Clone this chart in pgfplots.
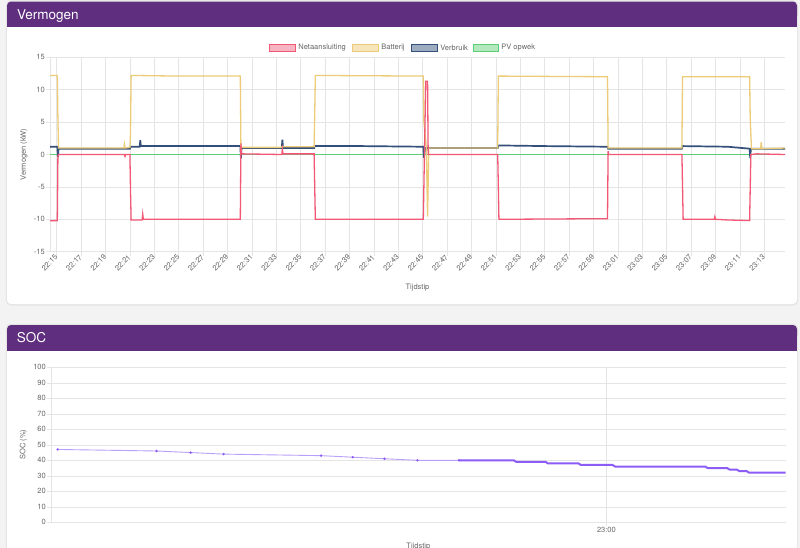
\documentclass[border=0pt]{standalone}
\usepackage{fontspec}
\setmainfont{TeX Gyre Heros}
\usepackage{pgfplots}
\pgfplotsset{compat=1.18}
\definecolor{pagebg}{RGB}{243,243,243}
\definecolor{shadowc}{RGB}{228,228,228}
\definecolor{purp}{RGB}{95,46,126}
\definecolor{gridc}{RGB}{229,229,229}
\definecolor{labc}{RGB}{102,102,102}
\definecolor{netc}{RGB}{242,88,118}
\definecolor{netf}{RGB}{247,180,194}
\definecolor{batc}{RGB}{236,204,120}
\definecolor{batf}{RGB}{246,228,186}
\definecolor{verc}{RGB}{52,80,122}
\definecolor{verf}{RGB}{158,172,194}
\definecolor{pvc}{RGB}{95,205,120}
\definecolor{pvf}{RGB}{178,232,188}
\definecolor{socthin}{RGB}{185,160,250}
\definecolor{socthick}{RGB}{140,92,245}
\newcommand{\tickfont}{\fontsize{7.5bp}{9bp}\selectfont}
\begin{document}
\begin{tikzpicture}
% page
\fill[pagebg] (0,0) rectangle (800bp,-548bp);
% card 1
\fill[shadowc, rounded corners=5bp] (5.8bp,-0.5bp) rectangle (798.2bp,-305.5bp);
\fill[white, rounded corners=4bp] (7bp,-1.5bp) rectangle (797bp,-304bp);
\fill[purp, rounded corners=4bp] (7bp,-1.5bp) rectangle (797bp,-20bp);
\fill[purp] (7bp,-12bp) rectangle (797bp,-27.3bp);
\node[anchor=base west, text=white, inner sep=0pt, font=\fontsize{13.5bp}{16bp}\selectfont] at (17bp,-19.2bp) {Vermogen};
% card 2
\fill[shadowc, rounded corners=5bp] (5.8bp,-323.8bp) rectangle (798.2bp,-560bp);
\fill[white, rounded corners=4bp] (7bp,-325bp) rectangle (797bp,-560bp);
\fill[purp, rounded corners=4bp] (7bp,-325bp) rectangle (797bp,-340bp);
\fill[purp] (7bp,-334bp) rectangle (797bp,-351bp);
\node[anchor=base west, text=white, inner sep=0pt, font=\fontsize{13.5bp}{16bp}\selectfont] at (16.7bp,-342.7bp) {SOC};

% legend
\begin{scope}[line width=0.8bp]
\filldraw[fill=netf, draw=netc] (269bp,-44bp) rectangle (295bp,-51bp);
\node[anchor=west, inner sep=0pt, text=labc, font=\tickfont] at (298bp,-47.5bp) {Netaansluiting};
\filldraw[fill=batf, draw=batc] (352bp,-44bp) rectangle (378bp,-51bp);
\node[anchor=west, inner sep=0pt, text=labc, font=\tickfont] at (381bp,-47.5bp) {Batterij};
\filldraw[fill=verf, draw=verc] (411bp,-44bp) rectangle (437bp,-51bp);
\node[anchor=west, inner sep=0pt, text=labc, font=\tickfont] at (440bp,-47.5bp) {Verbruik};
\filldraw[fill=pvf, draw=pvc] (473bp,-44bp) rectangle (498bp,-51bp);
\node[anchor=west, inner sep=0pt, text=labc, font=\tickfont] at (501bp,-47.5bp) {PV opwek};
\end{scope}

\begin{axis}[
  at={(50bp,-251.7bp)}, anchor=south west, scale only axis,
  width=735bp, height=194.4bp,
  xmin=14.45, xmax=74.7, ymin=-15, ymax=15,
  axis x line*=bottom, axis y line*=left,
  axis line style={draw=gridc, line width=0.8bp, -},
  xtick={15,17,...,73},
  xticklabels={22:15,22:17,22:19,22:21,22:23,22:25,22:27,22:29,22:31,22:33,22:35,22:37,22:39,22:41,22:43,22:45,22:47,22:49,22:51,22:53,22:55,22:57,22:59,23:01,23:03,23:05,23:07,23:09,23:11,23:13},
  ytick={-15,-10,...,15},
  tick align=outside, major tick length=4bp,
  tick style={draw=gridc, line width=0.6bp},
  grid=major, grid style={draw=gridc, line width=0.6bp},
  tick label style={font=\tickfont, text=labc},
  xticklabel style={rotate=45, anchor=east, inner sep=0.5bp},
  yticklabel style={inner sep=1bp},
  /pgf/number format/assume math mode=true,
  xlabel={Tijdstip}, ylabel={Vermogen (kW)},
  every axis x label/.style={at={(axis description cs:0.5,-0.185)}, anchor=center, font=\tickfont, text=labc},
  every axis y label/.style={at={(axis description cs:-0.0354,0.5)}, anchor=center, rotate=90, font=\tickfont, text=labc},
]
% PV opwek
\addplot[pvc, line width=0.8bp, no marks] coordinates {(14.45,0) (74.7,0)};
\addplot[pvc, line width=1.8bp, no marks] coordinates {(51.2,0) (60.2,0)};
\addplot[pvc, line width=1.8bp, no marks] coordinates {(66.3,0) (71.85,0)};
% Verbruik
\addplot[verc, line width=1.7bp, no marks] coordinates {
(14.45,1.2) (15.05,1.2) (15.1,-0.4) (15.15,0.9) (21.0,0.9) (21.05,1.2) (21.8,1.2) (21.85,2.2) (21.9,1.3)
(30.05,1.3) (30.1,-0.6) (30.15,1.0) (33.45,1.0) (33.5,2.3) (33.55,1.0) (36.1,1.0) (36.15,1.3) (40,1.3)
(45.05,1.2) (45.1,-0.5) (45.2,1.0) (51.15,1.0) (51.2,1.4) (55,1.3) (60.15,1.2) (60.2,0.9) (66.25,0.9)
(66.3,1.3) (70,1.2) (71.8,0.9) (71.85,-0.6) (71.9,0.9) (74.7,0.9)};
% Batterij
\addplot[batc, line width=1.3bp, no marks] coordinates {
(14.45,12.2) (15.05,12.2) (15.1,5.4) (15.15,1.0) (20.5,1.0) (20.55,1.6) (20.6,1.0) (21.0,1.1) (21.05,3.3) (21.1,12.2)
(25,12.1) (30.05,12.1) (30.1,1.1) (33.4,1.1) (33.5,1.2) (36.1,1.2) (36.15,6.2) (36.2,12.2)
(45.05,12.1) (45.1,5.0) (45.3,1.0) (45.4,-9.6) (45.5,1.0) (51.15,1.0) (51.2,12.1) (60.15,12.0) (60.2,1.0)
(66.25,1.0) (66.3,12.0) (71.8,12.0) (71.85,5.4) (71.95,0.9) (72.7,0.9) (72.75,1.9) (72.8,0.9) (74.7,1.0)};
% Netaansluiting
\addplot[netc, line width=1.3bp, no marks] coordinates {
(14.45,-10.2) (15.05,-10.2) (15.1,-0.1) (15.2,0) (20.55,0) (20.6,-0.3) (20.65,0) (21.0,0) (21.05,-5.6) (21.1,-10.1)
(22.0,-10.1) (22.05,-9.2) (22.1,-10.0) (30.05,-10.0) (30.1,1.7) (30.15,0.1) (33.45,0.0) (33.5,0.8) (33.55,0.1)
(36.1,0.1) (36.15,-5.0) (36.2,-10.0) (45.05,-10.0) (45.1,-4.7) (45.25,11.3) (45.4,11.3) (45.45,0)
(51.15,0) (51.2,-4.9) (51.25,-10.0) (60.15,-9.9) (60.2,0.5) (60.25,0) (66.25,0) (66.3,-4.9) (66.35,-10.0)
(68.9,-10.0) (68.95,-9.6) (69.0,-10.0) (70.0,-10.1) (71.8,-10.2) (71.85,-5.0) (71.9,0) (72.4,0.1) (74.7,0)};
\end{axis}

\begin{axis}[
  at={(51bp,-522.3bp)}, anchor=south west, scale only axis,
  width=734.7bp, height=155bp,
  xmin=14.45, xmax=74.7, ymin=0, ymax=100,
  axis x line*=bottom, axis y line*=left,
  axis line style={draw=gridc, line width=0.8bp, -},
  xtick={60}, xticklabels={23:00},
  ytick={0,10,...,100},
  tick align=outside, major tick length=4bp,
  tick style={draw=gridc, line width=0.6bp},
  grid=major, grid style={draw=gridc, line width=0.6bp},
  tick label style={font=\tickfont, text=labc},
  yticklabel style={inner sep=1bp},
  xticklabel style={inner sep=1bp},
  /pgf/number format/assume math mode=true,
  xlabel={Tijdstip}, ylabel={SOC (\%)},
  every axis x label/.style={at={(axis description cs:0.5,-0.159)}, anchor=center, font=\tickfont, text=labc},
  every axis y label/.style={at={(axis description cs:-0.0375,0.5)}, anchor=center, rotate=90, font=\tickfont, text=labc},
]
\addplot[socthin, line width=0.9bp, mark=*, mark size=0.7bp, mark options={fill=socthick, draw=socthick}] coordinates {
(15.0,47) (23.1,46) (25.9,45) (28.6,44) (36.6,43) (39.2,42) (41.8,41) (44.5,40) (47.9,40)};
\addplot[socthick, line width=2bp, no marks] coordinates {
(47.9,40) (52.4,40) (52.6,39) (55.0,39) (55.2,38) (57.7,38) (57.9,37) (60.5,37) (60.7,36) (68.1,36) (68.3,35)
(69.9,35) (70.1,34) (70.7,34) (70.9,33) (71.5,33) (71.7,32) (74.7,32)};
\end{axis}

\pgfresetboundingbox
\path[use as bounding box] (0,0) rectangle (800bp,-548bp);
\end{tikzpicture}
\end{document}
